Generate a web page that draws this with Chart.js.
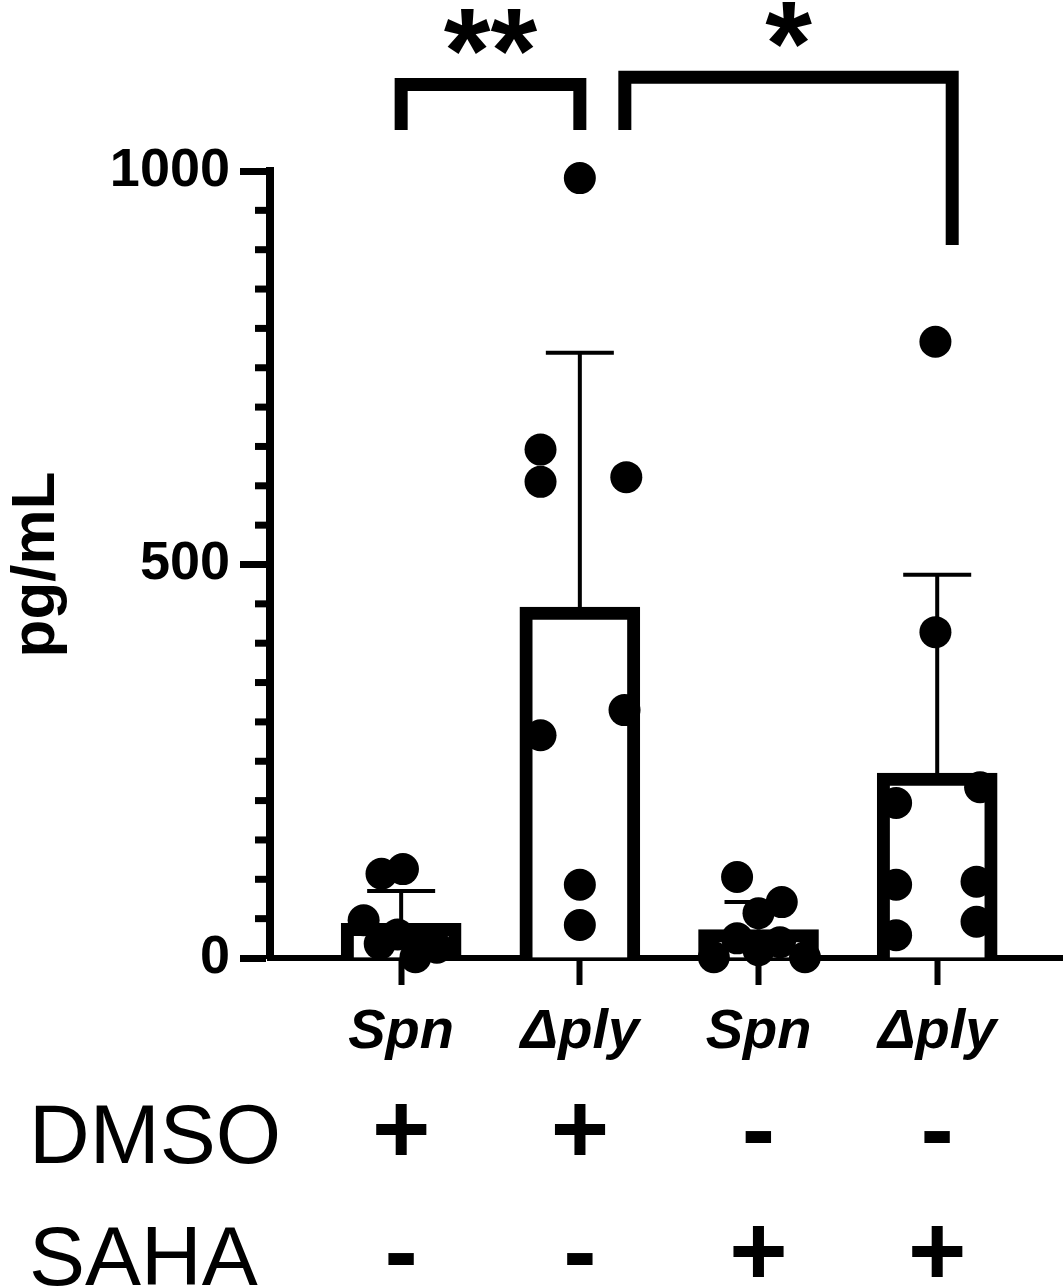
<!DOCTYPE html>
<html>
<head>
<meta charset="utf-8">
<title>pg/mL</title>
<script src="https://cdn.jsdelivr.net/npm/chart.js@4.4.1/dist/chart.umd.min.js"></script>
<style>
  html, body { margin: 0; padding: 0; background: #fff; overflow: hidden; }
  #wrap { width: 1063px; height: 1288px; }
</style>
</head>
<body>
<div id="wrap"><canvas id="cytokineChart"></canvas></div>
<script>
// groups along the x axis
const categories = ['Spn', 'Δply', 'Spn', 'Δply'];
const dmsoRow = ['+', '+', '-', '-'];
const sahaRow = ['-', '-', '+', '+'];

// bar height (mean) and upper error bar (SD), pg/mL
const means = [44, 446, 36, 235];
const sds = [41, 323, 35, 252];

// single replicates, pg/mL
const spnDmso = [107, 113, 48, 30, 22, 18, 13, 1];
const plyDmso = [991, 646, 605, 611, 283, 315, 93, 42];
const spnSaha = [103, 71, 57, 25, 20, 10, 1, 1];
const plySaha = [783, 414, 217, 197, 93, 29, 97, 46];

// horizontal scatter of the replicates (in group units)
const spnDmsoJitter = [-0.11, 0.01, -0.21, -0.02, 0.14, -0.12, 0.2, 0.08];
const plyDmsoJitter = [0, -0.22, -0.22, 0.26, -0.22, 0.25, 0, 0];
const spnSahaJitter = [-0.12, 0.13, 0, -0.12, 0.12, 0, -0.25, 0.26];
const plySahaJitter = [-0.01, -0.01, 0.24, -0.23, -0.23, -0.23, 0.22, 0.22];

// significance brackets
const brackets = [
    { from: 1, to: 2, top: 1110, leftEnd: 1052, rightEnd: 1052, label: '**' },
    { from: 2, to: 4, top: 1119, leftEnd: 1052, rightEnd: 906, label: '*' }
];

document.addEventListener('DOMContentLoaded', () => {
    const ctx = document.getElementById('cytokineChart').getContext('2d');
    const font = '"Liberation Sans", Arial, sans-serif';
    Chart.defaults.color = '#000';
    Chart.defaults.font.family = font;

    const groups = [spnDmso, plyDmso, spnSaha, plySaha];
    const jitters = [spnDmsoJitter, plyDmsoJitter, spnSahaJitter, plySahaJitter];
    const points = [];
    groups.forEach((vals, g) => {
        vals.forEach((v, k) => points.push({ x: g + 1 + jitters[g][k], y: v }));
    });
    const bars = means.map((m, i) => ({ x: i + 1, y: m }));

    // pixel shift of bracket legs, so the two brackets do not touch
    const bracketShift = [[0, 0], [45, 15]];

    const annotate = {
        id: 'annotate',
        afterDatasetDraw(chart, args) {
            if (args.index !== 1) return;
            const { ctx, scales: { x, y } } = chart;
            ctx.save();
            ctx.strokeStyle = '#000';
            ctx.lineWidth = 4;
            means.forEach((m, i) => {
                const cx = x.getPixelForValue(i + 1);
                const yTop = y.getPixelForValue(m + sds[i]);
                ctx.beginPath();
                ctx.moveTo(cx, y.getPixelForValue(m));
                ctx.lineTo(cx, yTop);
                ctx.moveTo(cx - 34, yTop);
                ctx.lineTo(cx + 34, yTop);
                ctx.stroke();
            });
            ctx.restore();
        },
        afterDraw(chart) {
            const { ctx, scales: { x, y } } = chart;
            ctx.save();
            ctx.strokeStyle = '#000';
            ctx.fillStyle = '#000';

            // minor ticks on the y axis
            ctx.lineWidth = 7;
            y.ticks.forEach(t => {
                if (t.value % 500 === 0) return;
                const py = y.getPixelForValue(t.value);
                ctx.beginPath();
                ctx.moveTo(y.right - 15, py);
                ctx.lineTo(y.right, py);
                ctx.stroke();
            });

            // brackets with stars
            ctx.lineWidth = 13;
            ctx.lineCap = 'butt';
            ctx.lineJoin = 'miter';
            brackets.forEach((b, i) => {
                const x1 = x.getPixelForValue(b.from) + bracketShift[i][0];
                const x2 = x.getPixelForValue(b.to) + bracketShift[i][1];
                const yt = y.getPixelForValue(b.top);
                ctx.beginPath();
                ctx.moveTo(x1, y.getPixelForValue(b.leftEnd));
                ctx.lineTo(x1, yt);
                ctx.lineTo(x2, yt);
                ctx.lineTo(x2, y.getPixelForValue(b.rightEnd));
                ctx.stroke();
                ctx.font = 'bold 120px ' + font;
                ctx.textAlign = 'center';
                ctx.textBaseline = 'alphabetic';
                ctx.fillText(b.label, (x1 + x2) / 2, yt + 8);
            });

            // treatment rows below the axis
            ctx.textBaseline = 'alphabetic';
            ctx.textAlign = 'left';
            ctx.font = '84px ' + font;
            ctx.fillText('DMSO', 29, 1163);
            ctx.fillText('SAHA', 29, 1285);
            ctx.textAlign = 'center';
            ctx.font = 'bold 100px ' + font;
            dmsoRow.forEach((s, i) => ctx.fillText(s, x.getPixelForValue(i + 1), 1163));
            sahaRow.forEach((s, i) => ctx.fillText(s, x.getPixelForValue(i + 1), 1285));
            ctx.restore();
        }
    };

    new Chart(ctx, {
        type: 'bar',
        data: {
            datasets: [{
                type: 'scatter',
                data: points,
                backgroundColor: '#000',
                borderWidth: 0,
                pointRadius: 16,
                pointHoverRadius: 16,
                clip: false,
                order: 0
            }, {
                type: 'bar',
                data: bars,
                backgroundColor: '#fff',
                borderColor: '#000',
                borderWidth: 13,
                borderSkipped: 'start',
                barThickness: 120,
                order: 1
            }]
        },
        options: {
            responsive: true,
            maintainAspectRatio: false,
            animation: false,
            layout: { autoPadding: false, padding: { top: 171, left: 0, right: 0, bottom: 0 } },
            plugins: {
                legend: { display: false },
                tooltip: { enabled: false }
            },
            scales: {
                x: {
                    type: 'linear',
                    min: 0.266,
                    max: 4.704,
                    offset: false,
                    afterBuildTicks: scale => {
                        scale.ticks = categories.map((c, i) => ({ value: i + 1 }));
                    },
                    afterFit: scale => { scale.height = 330; },
                    ticks: {
                        autoSkip: false,
                        maxRotation: 0,
                        padding: 14,
                        font: { size: 56, weight: 'bold', style: 'italic' },
                        callback: v => categories[Math.round(v) - 1] || ''
                    },
                    grid: {
                        offset: false,
                        drawOnChartArea: false,
                        drawTicks: true,
                        tickLength: 27,
                        tickWidth: 6,
                        tickColor: '#000'
                    },
                    border: { display: true, color: '#000', width: 6 }
                },
                y: {
                    min: 0,
                    max: 1000,
                    afterFit: scale => { scale.width = 270; },
                    ticks: {
                        stepSize: 50,
                        autoSkip: false,
                        padding: 10,
                        font: { size: 54, weight: 'bold' },
                        callback: v => (v % 500 === 0 ? v : '')
                    },
                    grid: {
                        drawOnChartArea: false,
                        drawTicks: true,
                        tickLength: 30,
                        tickWidth: 7,
                        tickColor: c => (c.tick && c.tick.value % 500 === 0 ? '#000' : 'rgba(0,0,0,0)')
                    },
                    border: { display: true, color: '#000', width: 8 },
                    title: {
                        display: true,
                        text: 'pg/mL',
                        font: { size: 62, weight: 'bold' },
                        padding: { top: 0, bottom: 0 }
                    }
                }
            }
        },
        plugins: [annotate]
    });
});
</script>
</body>
</html>
